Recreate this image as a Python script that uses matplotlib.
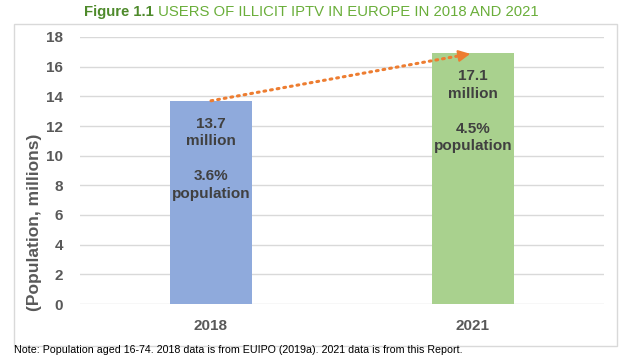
import matplotlib
matplotlib.use('Agg')

import matplotlib.pyplot as plt
from matplotlib.patches import Rectangle

# === data ===
YEARS = ['2018', '2021']
USERS_M = [13.7, 16.9]          # bar heights as drawn
USERS_LABEL = ['13.7', '17.1']  # label text
POP_SHARE = ['3.6%', '4.5%']
BAR_COLORS = ['#8faadc', '#a9d18e']

TITLE_BOLD = 'Figure 1.1'
TITLE_REST = ' USERS OF ILLICIT IPTV IN EUROPE IN 2018 AND 2021'
Y_LABEL = '(Population, millions)'
NOTE = 'Note: Population aged 16-74. 2018 data is from EUIPO (2019a). 2021 data is from this Report.'

plt.rcParams['font.family'] = ['Liberation Sans', 'DejaVu Sans']

W, H = 624, 360
fig = plt.figure(figsize=(W / 100, H / 100), dpi=100)
fig.patch.set_facecolor('white')

# chart border
fig.patches.append(Rectangle((14 / W, 1 - 346 / H), 603 / W, 322 / H,
                             transform=fig.transFigure, fill=False,
                             edgecolor='#d9d9d9', linewidth=1))

ax = fig.add_axes([80 / W, 56 / H, 524 / W, 267 / H])
x = list(range(len(YEARS)))
ax.bar(x, USERS_M, width=0.31, color=BAR_COLORS, zorder=2)

# labels inside bars
for xi, h, lab, pct in zip(x, USERS_M, USERS_LABEL, POP_SHARE):
    ax.text(xi, h - 3.9, f'{lab}\nmillion\n\n{pct}\npopulation',
            ha='center', va='center', fontsize=11, fontweight='bold',
            color='#404040', linespacing=1.32, zorder=3)

# dotted growth arrow from bar top to bar top
slope = (USERS_M[1] - USERS_M[0]) / (x[1] - x[0])
ax.plot([x[0], x[1] - 0.03], [USERS_M[0], USERS_M[1] - 0.03 * slope],
        color='#ed7d31', linestyle=(0, (0.6, 1.6)), linewidth=2.2,
        dash_capstyle='round', zorder=4)
ax.annotate('', xy=(x[1], USERS_M[1]),
            xytext=(x[1] - 0.06, USERS_M[1] - 0.06 * slope),
            arrowprops=dict(arrowstyle='-|>,head_length=0.7,head_width=0.35',
                            color='#ed7d31', lw=1.5), zorder=5)

ax.set_xlim(-0.5, 1.5)
ax.set_ylim(0, 18)
ax.set_yticks(range(0, 19, 2))
ax.set_xticks(x)
ax.set_xticklabels(YEARS)
ax.grid(axis='y', color='#d9d9d9', linewidth=1, zorder=0)
ax.set_axisbelow(True)
for s in ax.spines.values():
    s.set_visible(False)
ax.tick_params(length=0)
ax.tick_params(axis='y', pad=12)
ax.tick_params(axis='x', pad=11)
for t in ax.get_yticklabels() + ax.get_xticklabels():
    t.set_fontweight('bold')
    t.set_color('#595959')
    t.set_fontsize(11)

fig.text(35 / W, 1 - 222 / H, Y_LABEL, rotation=90, ha='center', va='center',
         fontsize=12.5, fontweight='bold', color='#595959')

# title: bold part then regular part
fig.canvas.draw()
r = fig.canvas.get_renderer()
t1 = fig.text(84 / W, 1 - 12 / H, TITLE_BOLD, ha='left', va='center',
              fontsize=10.7, fontweight='bold', color='#4e8a2b')
bb = t1.get_window_extent(renderer=r)
fig.text(bb.x1 / W, 1 - 12 / H, TITLE_REST, ha='left', va='center',
         fontsize=10.7, color='#6aae3a')

fig.text(14 / W, 1 - 350 / H, NOTE, ha='left', va='center', fontsize=7.7,
         color='black')

fig.savefig('out.png', dpi=100, facecolor='white')
